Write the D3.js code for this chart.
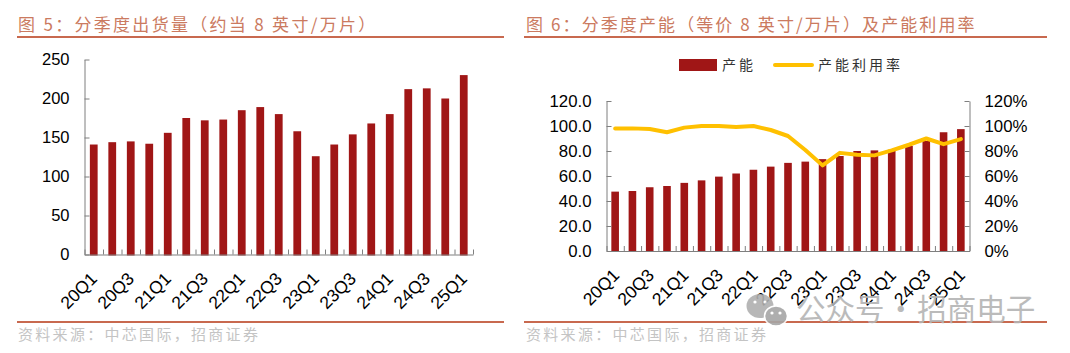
<!DOCTYPE html>
<html>
<head>
<meta charset="utf-8">
<script src="https://cdn.jsdelivr.net/npm/d3@7"></script>
<style>
body { margin: 0; background: #fff; }
svg { display: block; }
text { font-family: "Liberation Sans", Arial, sans-serif; }
.cjk { font-family: "Noto Sans CJK SC", sans-serif; }
.axis path, .axis line { stroke: #7f7f7f; }
</style>
</head>
<body>
<div id="chart"></div>
<script>
var quarters = ["20Q1","20Q2","20Q3","20Q4","21Q1","21Q2","21Q3","21Q4","22Q1","22Q2","22Q3","22Q4","23Q1","23Q2","23Q3","23Q4","24Q1","24Q2","24Q3","24Q4","25Q1"];
var shipments = [141,144,145,142,156,175,172,173,185,189,180,158,126,141,154,168,180,212,213,200,230];
var capacity = [47.5,48,51,52,54.5,56.5,59.5,62,65,67.5,70.5,71.5,73.5,76,80,80.5,81,84,88,95,97.5];
var utilization = [98.1,98.1,97.6,95,98.7,100,100,99.2,100,96.8,92,80.8,68.5,78.5,77,76.5,80.5,85,90,85.5,89.5];

var title1 = "图 5\uFF1A分季度出货量\uFF08约当 8 英寸/万片\uFF09";
var title2 = "图 6\uFF1A分季度产能\uFF08等价 8 英寸/万片\uFF09及产能利用率";
var source = "资料来源\uFF1A中芯国际\uFF0C招商证券";
var watermark = "公众号 · 招商电子";

var red = "#a01616";
var gold = "#ffc000";
var rule = "#c8694f";

var svg = d3.select("#chart").append("svg").attr("width", 1070).attr("height", 353);

function frame(x0, x1, title, textX, titleSpacing, sourceSpacing) {
    svg.append("text").attr("class", "cjk")
        .attr("x", textX).attr("y", 31)
        .attr("fill", "#cb7a60")
        .style("font-size", "17px")
        .style("letter-spacing", titleSpacing + "px")
        .text(title);
    svg.append("line").attr("x1", x0).attr("x2", x1).attr("y1", 37).attr("y2", 37)
        .attr("stroke", rule).attr("stroke-width", 2);
    svg.append("line").attr("x1", x0).attr("x2", x1).attr("y1", 322).attr("y2", 322)
        .attr("stroke", rule).attr("stroke-width", 2);
    svg.append("text").attr("class", "cjk")
        .attr("x", textX).attr("y", 340)
        .attr("fill", "#c4c4c4")
        .style("font-size", "15px")
        .style("letter-spacing", sourceSpacing + "px")
        .text(source);
}

function bottomAxis(left, right, baseY) {
    // tick marks sit between the bars
    var edges = d3.scaleLinear().domain([0, quarters.length]).range([left, right]);
    svg.append("g").attr("class", "axis")
        .attr("transform", `translate(0,${baseY})`)
        .call(d3.axisBottom(edges).tickValues(d3.range(quarters.length + 1)).tickSize(-5).tickSizeOuter(0).tickFormat(""));
}

function xLabels(x, baseY, dx) {
    // labels on every second quarter
    svg.append("g").selectAll("text")
        .data(quarters.filter((d, i) => i % 2 == 0))
        .join("text")
        .attr("text-anchor", "end")
        .attr("transform", d => `translate(${x(d) + x.bandwidth() / 2 + dx},${baseY + 21}) rotate(-45)`)
        .attr("dy", "0.35em")
        .attr("fill", "#000")
        .style("font-size", "17.5px")
        .text(d => d);
}

function bars(x, y, values, baseY) {
    svg.append("g").selectAll("rect")
        .data(values)
        .join("rect")
        .attr("x", (d, i) => x(quarters[i]))
        .attr("y", d => y(d))
        .attr("width", x.bandwidth())
        .attr("height", d => baseY - y(d))
        .attr("fill", red);
}

function valueAxis(axis, tx, size) {
    var g = svg.append("g").attr("class", "axis")
        .attr("transform", `translate(${tx},0)`)
        .call(axis);
    g.selectAll("text").attr("fill", "#000").style("font-size", size + "px");
    return g;
}

// left chart
frame(17, 504, title1, 18, 2.3, 2.3);
var y1 = d3.scaleLinear().domain([0, 250]).range([254.5, 59.5]);
var x1 = d3.scaleBand().domain(quarters).range([84.5, 473]).paddingInner(0.58).paddingOuter(0.29);
bars(x1, y1, shipments, 255.5);
bottomAxis(84.5, 473, 254.5);
valueAxis(d3.axisLeft(y1).tickValues(d3.range(0, 251, 50)).tickSize(-5).tickSizeOuter(0).tickPadding(15), 84.5, 16.5);
xLabels(x1, 254.5, 0);

// right chart
frame(524, 1047, title2, 526, 2.1, 2.3);
var y2 = d3.scaleLinear().domain([0, 120]).range([251, 101]);
var yPct = d3.scaleLinear().domain([0, 120]).range([251, 101]);
var x2 = d3.scaleBand().domain(quarters).range([606.5, 969.5]).paddingInner(0.56).paddingOuter(0.28);
bars(x2, y2, capacity, 252);
bottomAxis(606.5, 969.5, 251);
valueAxis(d3.axisLeft(y2).tickValues(d3.range(0, 121, 20)).tickSize(-5).tickSizeOuter(0).tickPadding(15).tickFormat(d3.format(".1f")), 606.5, 16.8);
valueAxis(d3.axisRight(yPct).tickValues(d3.range(0, 121, 20)).tickSize(-5).tickSizeOuter(0).tickPadding(15).tickFormat(d => d + "%"), 969.5, 16.8);
xLabels(x2, 251, 1);

var line = d3.line()
    .x((d, i) => x2(quarters[i]) + x2.bandwidth() / 2)
    .y(d => yPct(d));
svg.append("path").datum(utilization)
    .attr("d", line)
    .attr("fill", "none")
    .attr("stroke", gold)
    .attr("stroke-width", 4)
    .attr("stroke-linejoin", "round")
    .attr("stroke-linecap", "round");

// legend
svg.append("rect").attr("x", 679).attr("y", 59).attr("width", 38).attr("height", 12).attr("fill", red);
svg.append("text").attr("class", "cjk").attr("x", 722).attr("y", 70)
    .attr("fill", "#333").style("font-size", "14px").style("letter-spacing", "3px").text("产能");
svg.append("line").attr("x1", 775).attr("x2", 812).attr("y1", 65).attr("y2", 65)
    .attr("stroke", gold).attr("stroke-width", 4).attr("stroke-linecap", "round");
svg.append("text").attr("class", "cjk").attr("x", 818).attr("y", 70)
    .attr("fill", "#333").style("font-size", "14px").style("letter-spacing", "3px").text("产能利用率");

// watermark
var wm = svg.append("g").attr("opacity", 0.9);
wm.append("ellipse").attr("cx", 760).attr("cy", 306).attr("rx", 13.5).attr("ry", 12).attr("fill", "#b0b0b0");
wm.append("ellipse").attr("cx", 776).attr("cy", 316).attr("rx", 11.5).attr("ry", 10).attr("fill", "#a6a6a6").attr("stroke", "#fff").attr("stroke-width", 1.5);
wm.selectAll("circle")
    .data([[755, 302], [765, 302], [772, 313], [780, 313]])
    .join("circle")
    .attr("cx", d => d[0]).attr("cy", d => d[1]).attr("r", 1.6).attr("fill", "#fff");
wm.append("text").attr("class", "cjk").attr("x", 796).attr("y", 320)
    .attr("fill", "#b4b4b4").style("font-size", "29.5px").style("word-spacing", "-5px").text(watermark);
</script>
</body>
</html>
